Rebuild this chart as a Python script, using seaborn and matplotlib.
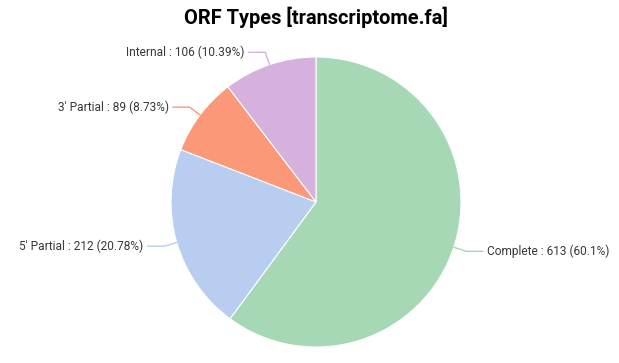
import numpy as np
import matplotlib
matplotlib.use("Agg")
import matplotlib.pyplot as plt
import seaborn as sns

categories = ["Complete", "5' Partial", "3' Partial", "Internal"]
values = [613, 212, 89, 106]
percents = ["60.1%", "20.78%", "8.73%", "10.39%"]
colors = ["#a6d8b5", "#b9cdf0", "#fa9878", "#d6b1dd"]
title = "ORF Types [transcriptome.fa]"

sns.set_theme(style="white")
plt.rcParams['font.family'] = ['Roboto', 'DejaVu Sans']

W, H = 619, 363
fig = plt.figure(figsize=(W / 100, H / 100), dpi=100)
cx, cy, R = 316, 202, 145
ax = fig.add_axes([(cx - R) / W, (H - cy - R) / H, 2 * R / W, 2 * R / H])

wedges, _ = ax.pie(values, colors=colors, startangle=90, counterclock=False,
                   radius=1.0, wedgeprops=dict(edgecolor="white", linewidth=0.8))
ax.set_xlim(-1, 1)
ax.set_ylim(-1, 1)
ax.set_aspect("auto")
ax.axis("off")

for w, cat, v, p, c in zip(wedges, categories, values, percents, colors):
    ang = np.deg2rad((w.theta1 + w.theta2) / 2)
    x0, y0 = np.cos(ang), np.sin(ang)
    x1, y1 = 1.09 * x0, 1.09 * y0
    side = 1 if x0 >= 0 else -1
    x2 = x1 + side * 0.115
    ax.plot([x0, x1, x2], [y0, y1, y1], color=c, lw=1, clip_on=False)
    ax.text(x2 + side * 0.03, y1, f"{cat} : {v} ({p})", ha="left" if side > 0 else "right",
            va="center", fontsize=8.6, color="#383838")

fig.text(cx / W, 1 - 17 / H, title, ha="center", va="center", fontsize=14.4,
         fontweight="bold", color="#000000")

fig.savefig("out.png", dpi=100, facecolor="white")
